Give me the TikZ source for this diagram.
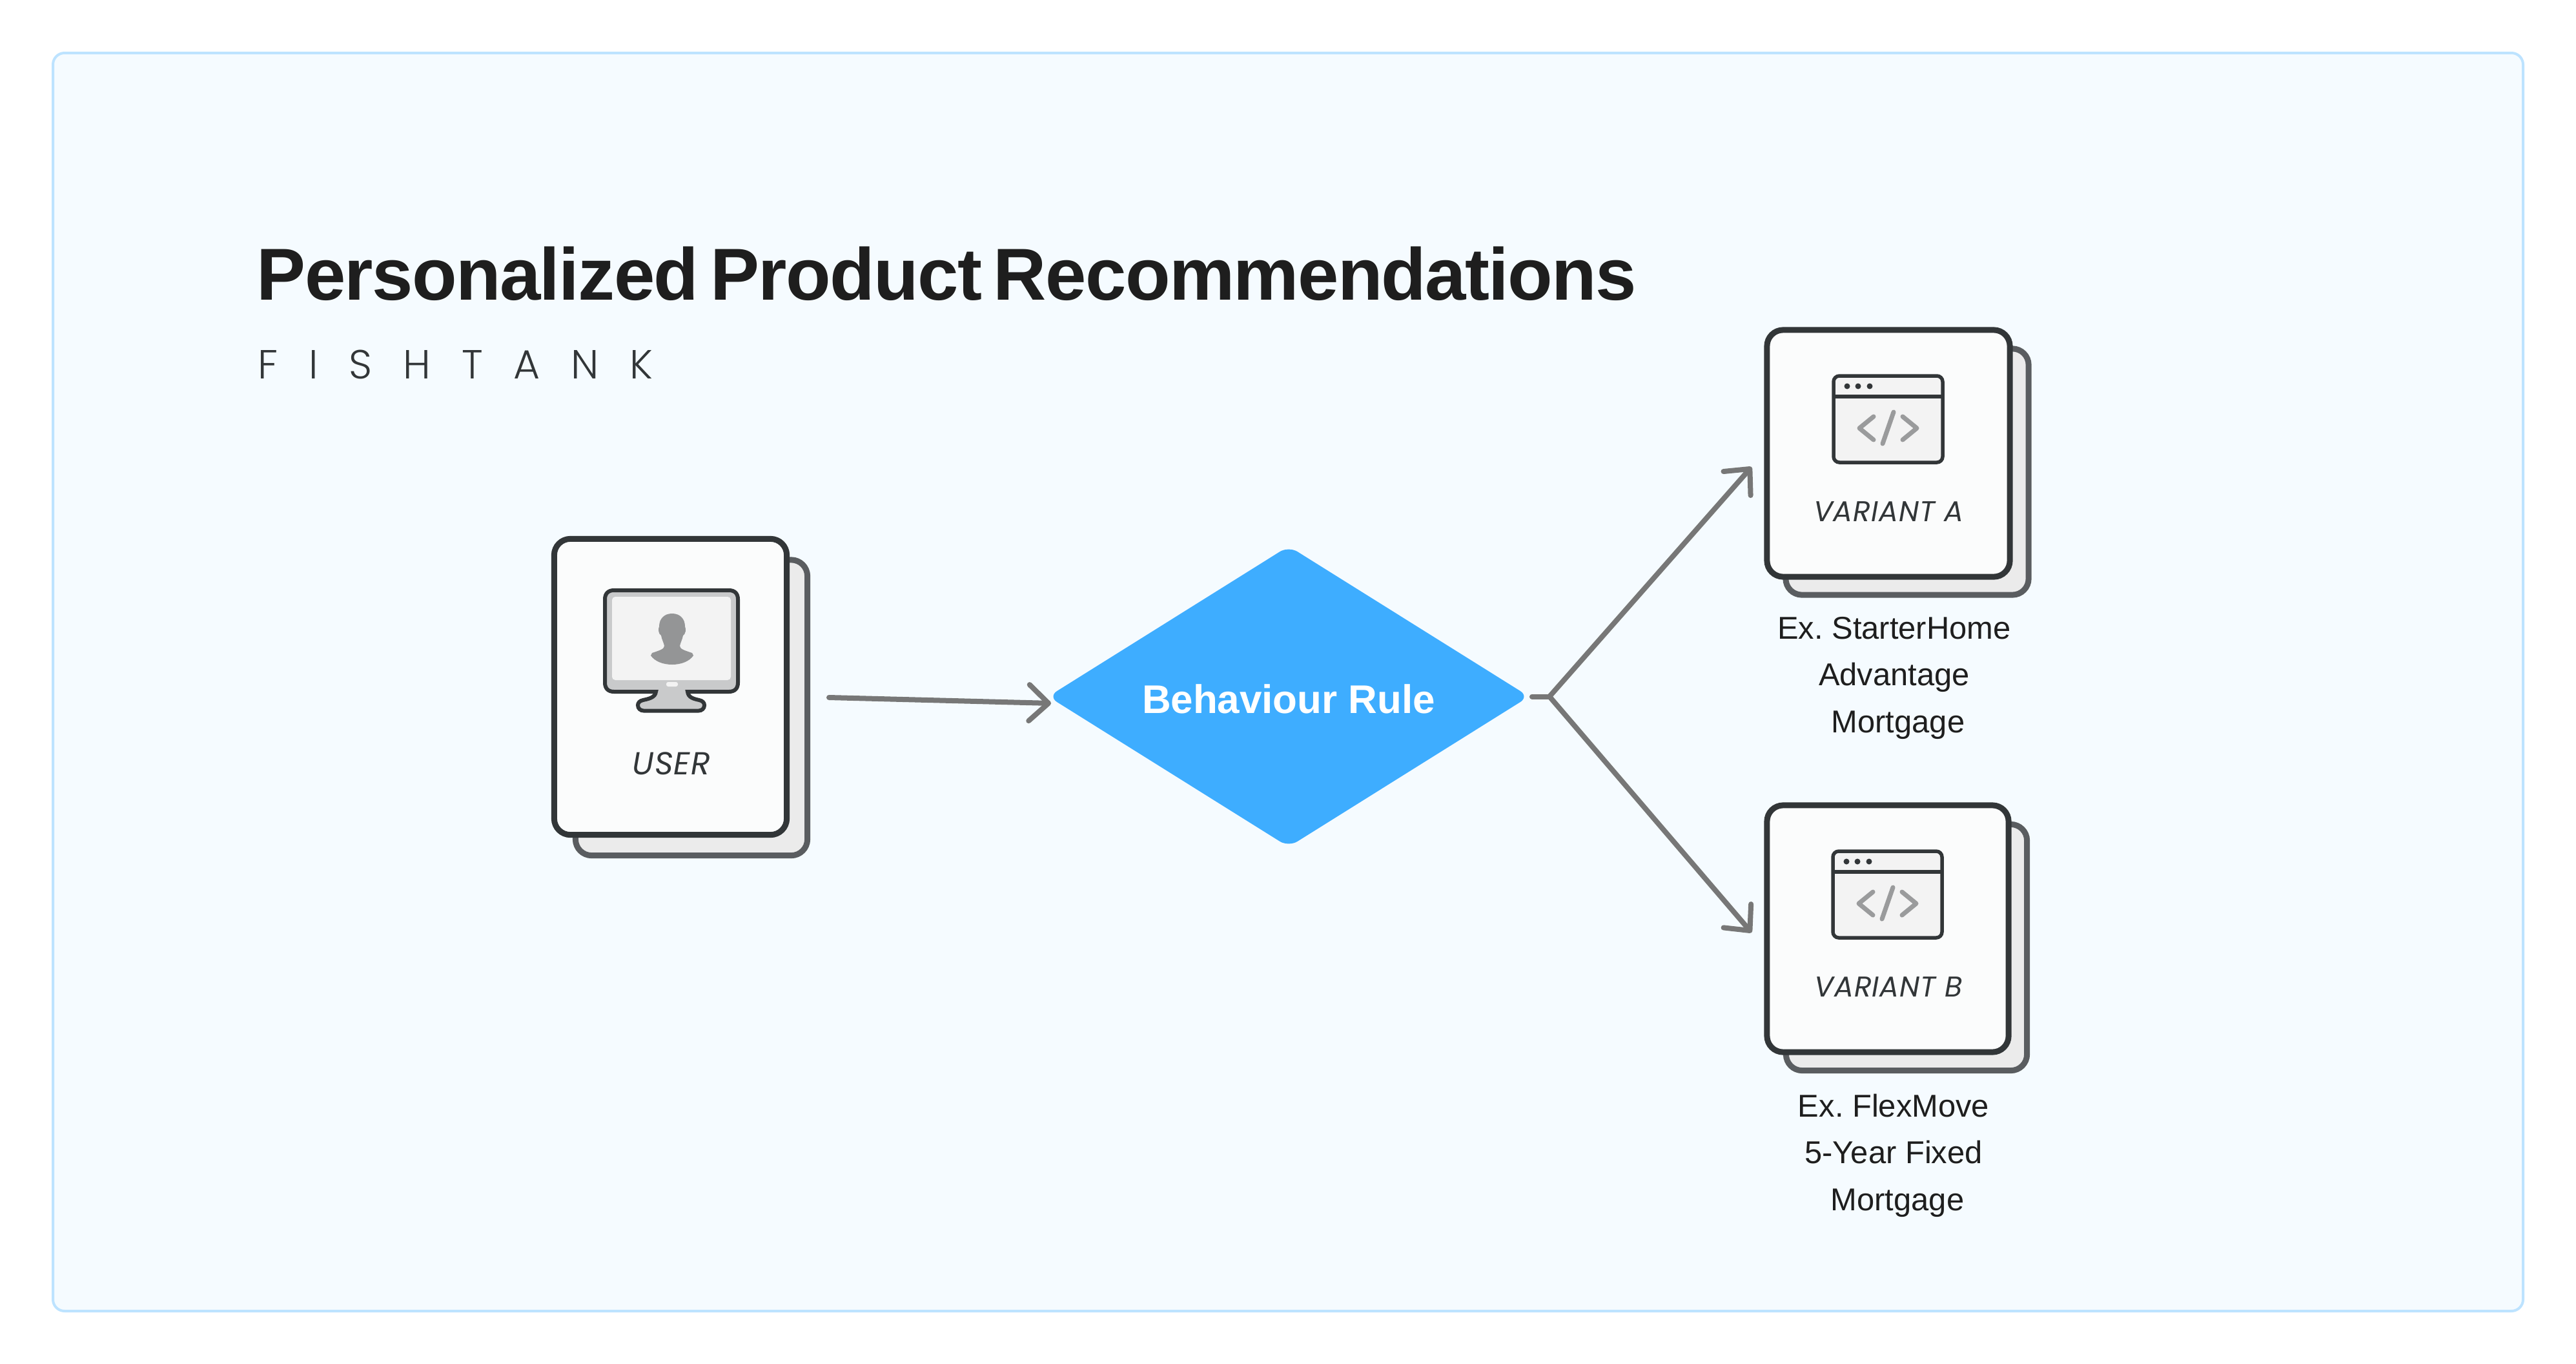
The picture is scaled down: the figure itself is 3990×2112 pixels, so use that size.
\documentclass[tikz,border=0pt]{standalone}
\usepackage{fontspec}
\usetikzlibrary{arrows.meta,shapes.geometric}
\setmainfont{Liberation Sans}
\newfontfamily\labelfont[LetterSpace=2]{Poppins}
\newfontfamily\fishfont[LetterSpace=76]{Poppins Light}
\newfontfamily\titlefont[LetterSpace=-1.45,WordSpace=0.6]{Liberation Sans}

\definecolor{panelfill}{HTML}{F5FBFF}
\definecolor{paneledge}{HTML}{BDE3FF}
\definecolor{cardfill}{HTML}{FBFCFC}
\definecolor{cardedge}{HTML}{323638}
\definecolor{backfill}{HTML}{EBEBEB}
\definecolor{backedge}{HTML}{5A5D60}
\definecolor{flowgray}{HTML}{777777}
\definecolor{rulefill}{HTML}{3EADFF}
\definecolor{inkblack}{HTML}{1E1E1E}
\definecolor{iconfill}{HTML}{F3F3F3}
\definecolor{standfill}{HTML}{C9CACB}
\definecolor{codegray}{HTML}{9A9B9C}
\definecolor{persongray}{HTML}{949596}

\tikzset{
  frontcard/.style={draw=cardedge, fill=cardfill, line width=0.09cm, rounded corners=0.25cm, inner sep=0pt},
  backcard/.style={draw=backedge, fill=backfill, line width=0.09cm, rounded corners=0.25cm, inner sep=0pt},
  flow/.style={draw=flowgray, line width=0.08cm, line cap=round, line join=round},
  flowtip/.style={flow, -{Straight Barb[length=0.3cm, width=0.56cm, line cap=round, line join=round]}},
  cardlabel/.style={font=\labelfont\itshape\fontsize{12.6pt}{14pt}\selectfont, text=cardedge, anchor=base, inner sep=0pt},
  examplelabel/.style={font=\frenchspacing\fontsize{13.9pt}{20.5pt}\selectfont, text=inkblack, anchor=base, align=center, inner sep=0pt},
  iconline/.style={draw=cardedge, line width=0.055cm},
  codeline/.style={draw=codegray, line width=0.07cm, line cap=round, line join=round}
}

\begin{document}
\begin{tikzpicture}[x=0.01cm, y=-0.01cm]

    \useasboundingbox (0,0) rectangle (3990,2112);

    % Panel behind everything
    \draw[draw=paneledge, fill=panelfill, line width=0.04cm, rounded corners=0.18cm] (82,82) rectangle (3908,2030);

    % Heading
    \node[anchor=base west, inner sep=0pt, text=inkblack, font=\titlefont\bfseries\fontsize{32.4pt}{36pt}\selectfont] (heading) at (397,464) {Personalized Product Recommendations};
    \node[anchor=base west, inner sep=0pt, text=cardedge, font=\fishfont\fontsize{17.9pt}{20pt}\selectfont] (brand) at (399,586) {FISHTANK};

    % Cards, the back sheet first
    \node[backcard, minimum width=3.59cm, minimum height=4.575cm] (userBack) at (1071,1095.75) {};
    \node[frontcard, minimum width=3.6cm, minimum height=4.58cm] (userFront) at (1038.5,1063.5) {};
    \node[backcard, minimum width=3.76cm, minimum height=3.81cm] (varABack) at (2954,730.5) {};
    \node[frontcard, minimum width=3.76cm, minimum height=3.82cm] (varAFront) at (2925,702) {};
    \node[backcard, minimum width=3.73cm, minimum height=3.81cm] (varBBack) at (2953,1467) {};
    \node[frontcard, minimum width=3.74cm, minimum height=3.82cm] (varBFront) at (2924,1438) {};

    % Monitor of the user card
    \draw[iconline, line width=0.06cm, fill=standfill] (937,928) .. controls (937,919) and (942,914) .. (951,914)
        -- (1129,914) .. controls (1138,914) and (1143,919) .. (1143,928)
        -- (1143,1057) .. controls (1143,1066) and (1138,1071) .. (1129,1071)
        -- (1065,1071) .. controls (1066,1080) and (1074,1082) .. (1083,1084)
        .. controls (1088,1085) and (1091,1088) .. (1091,1092)
        .. controls (1091,1097) and (1087,1100.5) .. (1082,1100.5)
        -- (997,1100.5) .. controls (992,1100.5) and (988,1097) .. (988,1092)
        .. controls (988,1088) and (991,1085) .. (996,1084)
        .. controls (1005,1082) and (1015,1080) .. (1016,1071)
        -- (951,1071) .. controls (942,1071) and (937,1066) .. (937,1057) -- cycle;
    \fill[iconfill, rounded corners=0.05cm] (948,924) rectangle (1132,1053);
    \fill[iconfill, rounded corners=0.03cm] (1032,1056) rectangle (1050,1063);

    % Person on the screen
    \fill[persongray] (1041,950) .. controls (1029,950) and (1021,958) .. (1021,970)
        .. controls (1019,974) and (1020,982) .. (1024,984)
        .. controls (1025,990) and (1028,995) .. (1029,1000)
        .. controls (1029,1005) and (1022,1007) .. (1010,1011)
        -- (1008,1015) .. controls (1014,1024) and (1027,1029) .. (1041,1029)
        .. controls (1055,1029) and (1068,1024) .. (1074,1015)
        -- (1072,1011) .. controls (1060,1007) and (1053,1005) .. (1053,1000)
        .. controls (1054,995) and (1057,990) .. (1058,984)
        .. controls (1062,982) and (1063,974) .. (1061,970)
        .. controls (1061,958) and (1053,950) .. (1041,950) -- cycle;

    % Code window on each variant card
    \foreach \wx/\wy in {2837/579, 2836/1315} {
        \begin{scope}[shift={(\wx,\wy)}]
            \draw[iconline, fill=iconfill, rounded corners=0.09cm] (3,3) rectangle (172,137);
            \draw[iconline] (3,35) -- (172,35);
            \foreach \dotx in {24,41,59}
                \fill[cardedge] (\dotx,19) circle (0.045cm);
            \draw[codeline] (65,66) -- (43,84) -- (65,102);
            \draw[codeline] (96,59) -- (79,108);
            \draw[codeline] (110,66) -- (132,84) -- (110,102);
        \end{scope}
    }

    % Labels in and under the cards
    \node[cardlabel, font=\labelfont\itshape\fontsize{14pt}{16pt}\selectfont] (userText) at (1040,1199) {USER};
    \node[cardlabel] (varAText) at (2925,807) {VARIANT A};
    \node[cardlabel] (varBText) at (2925,1543) {VARIANT B};
    \node[examplelabel] (exampleA) at (2934,1134) {Ex. StarterHome\\Advantage\\\hspace*{0.12cm}Mortgage};
    \node[examplelabel] (exampleB) at (2933,1874) {Ex. FlexMove\\5-Year Fixed\\\hspace*{0.12cm}Mortgage};

    % Decision in the middle
    \node[diamond, fill=rulefill, text=white, inner sep=0pt, aspect=1.62, minimum width=7.45cm, minimum height=4.66cm, rounded corners=0.16cm, text height=0.52cm, text depth=0pt, font=\bfseries\fontsize{17.6pt}{20pt}\selectfont] (rule) at (1996,1078.5) {Behaviour Rule};

    % Free ends of the connectors
    \coordinate (userOut) at (1284,1080);
    \coordinate (ruleIn) at (1628,1089);
    \coordinate (fork) at (2400,1078.5);
    \coordinate (tipA) at (2713,723);
    \coordinate (tipB) at (2713,1444);

    \draw[flowtip] (userOut) -- (ruleIn);
    \draw[flow] ([xshift=0.035cm]rule.east) -- (fork);
    \draw[flowtip] (fork) -- (tipA);
    \draw[flowtip] (fork) -- (tipB);

\end{tikzpicture}
\end{document}
